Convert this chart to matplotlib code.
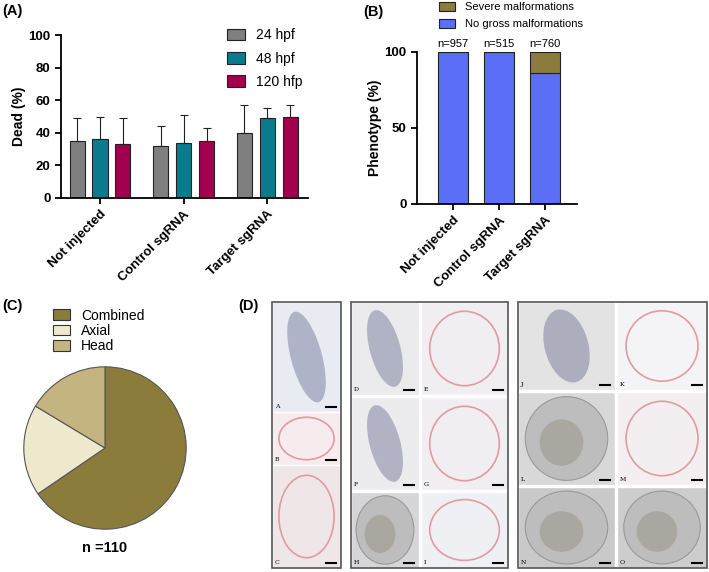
import numpy as np
import matplotlib
matplotlib.use("Agg")
import matplotlib.pyplot as plt
from matplotlib.patches import Rectangle, Ellipse, Patch

plt.rcParams['font.family'] = ['Liberation Sans', 'DejaVu Sans']

W, H = 709, 572

# panel A data
groups = ['Not injected', 'Control sgRNA', 'Target sgRNA']
times = ['24 hpf', '48 hpf', '120 hfp']
dead = [[35, 32, 40],   # 24 hpf
        [36, 34, 49],   # 48 hpf
        [33, 35, 50]]   # 120 hfp
dead_err = [[14, 12, 17],
            [14, 17, 6],
            [16, 8, 7]]
colors_a = ['#7f7f7f', '#0a7b8c', '#a2004f']

# panel B data
n_labels = ['n=957', 'n=515', 'n=760']
no_gross = [100, 100, 86]
severe = [0, 0, 14]

# panel C data
pie_labels = ['Combined', 'Axial', 'Head']
pie_counts = [72, 20, 18]
pie_colors = ['#8c7c3b', '#eee8cd', '#c4b47f']


def px_axes(l, t, r, b, **kw):
    return fig.add_axes([l / W, 1 - b / H, (r - l) / W, (b - t) / H], **kw)


fig = plt.figure(figsize=(W / 100, H / 100), dpi=100)

# ---------- (A) ----------
ax = px_axes(61, 35, 308, 198)
x = np.arange(len(groups))
for i in range(3):
    ax.bar(x + (i - 1) * 0.275, dead[i], 0.18, color=colors_a[i], edgecolor='#222222',
           linewidth=0.8, yerr=[np.zeros(3), dead_err[i]], capsize=3,
           error_kw=dict(elinewidth=0.8, capthick=0.8, ecolor='#222222'), label=times[i])
ax.set_xlim(-0.467, 2.49)
ax.set_ylim(0, 100)
ax.set_yticks([0, 20, 40, 60, 80, 100])
ax.set_xticks(x)
ax.set_xticklabels(groups, rotation=45, ha='right', rotation_mode='anchor',
                   fontweight='bold', fontsize=9.5)
for lab in ax.get_yticklabels():
    lab.set_fontweight('bold')
    lab.set_fontsize(9.5)
ax.set_ylabel('Dead (%)', fontweight='bold', fontsize=10, labelpad=2)
for s in ['top', 'right']:
    ax.spines[s].set_visible(False)
for s in ['left', 'bottom']:
    ax.spines[s].set_linewidth(1.3)
ax.tick_params(width=1.3, length=4)
ax.legend(loc='upper left', bbox_to_anchor=(215 / W, 1 - 16 / H), bbox_transform=fig.transFigure,
          frameon=False, fontsize=10, handlelength=1.25, handleheight=0.9, labelspacing=0.65,
          handletextpad=0.8)

# ---------- (B) ----------
bx = px_axes(417, 52, 577, 204)
xb = np.arange(3)
bx.bar(xb, no_gross, 0.65, color='#5a6ff6', edgecolor='#222222', linewidth=0.8,
       label='No gross malformations')
bx.bar(xb, severe, 0.65, bottom=no_gross, color='#8c7c3b', edgecolor='#222222',
       linewidth=0.8, label='Severe malformations')
for xi, t in zip(xb, n_labels):
    bx.text(xi, 102, t, ha='center', va='bottom', fontsize=8)
bx.set_xlim(-0.78, 2.7)
bx.set_ylim(0, 100)
bx.set_yticks([0, 50, 100])
bx.set_xticks(xb)
bx.set_xticklabels(groups, rotation=45, ha='right', rotation_mode='anchor',
                   fontweight='bold', fontsize=9.5)
for lab in bx.get_yticklabels():
    lab.set_fontweight('bold')
    lab.set_fontsize(9.5)
bx.set_ylabel('Phenotype (%)', fontweight='bold', fontsize=10, labelpad=2)
for s in ['top', 'right']:
    bx.spines[s].set_visible(False)
for s in ['left', 'bottom']:
    bx.spines[s].set_linewidth(1.3)
bx.tick_params(width=1.3, length=4)
hs, ls = bx.get_legend_handles_labels()
bx.legend(hs[::-1], ls[::-1], loc='upper left', bbox_to_anchor=(429 / W, 1 + 8 / H),
          bbox_transform=fig.transFigure, frameon=False, fontsize=8, handlelength=1.45,
          handleheight=0.8, labelspacing=0.65, handletextpad=0.9)

# ---------- (C) ----------
cx = px_axes(23, 366, 187, 530)
wedges, _ = cx.pie(pie_counts, colors=pie_colors, startangle=90, counterclock=False,
                   wedgeprops=dict(edgecolor='#555555', linewidth=0.8))
cx.set_xlim(-1.01, 1.01)
cx.set_ylim(-1.01, 1.01)
cx.set_aspect('equal')
cx.text(0.5, -0.11, 'n =110', transform=cx.transAxes, ha='center', va='center',
        fontweight='bold', fontsize=10.5)
handles = [Patch(facecolor=c, edgecolor='#333333', linewidth=0.8) for c in pie_colors]
fig.legend(handles, pie_labels, loc='upper left', bbox_to_anchor=(40 / W, 1 - 296 / H),
           frameon=False, fontsize=10, handlelength=1.25, handleheight=0.8,
           labelspacing=0.1, handletextpad=0.8)

# ---------- (D) image placeholders ----------
dax = fig.add_axes([0, 0, 1, 1], zorder=-1)
dax.set_xlim(0, W)
dax.set_ylim(H, 0)
dax.axis('off')

frames = [(272, 302, 341, 568), (351, 302, 508, 568), (518, 302, 707, 568)]
tiles = [
    ('A', 272, 302, 341, 412, '#e9ebf3', 'w'),
    ('B', 272, 412, 341, 465, '#f6eced', 's'),
    ('C', 272, 465, 341, 568, '#efe7e7', 's'),
    ('D', 351, 302, 419, 395, '#ebebed', 'w'),
    ('E', 421, 302, 508, 395, '#f1eef2', 's'),
    ('F', 351, 397, 419, 490, '#ececee', 'w'),
    ('G', 421, 397, 508, 490, '#f1eef2', 's'),
    ('H', 351, 492, 419, 568, '#d6d6d8', 'e'),
    ('I', 421, 492, 508, 568, '#eef0f4', 's'),
    ('J', 518, 302, 615, 390, '#e3e3e3', 'w'),
    ('K', 617, 302, 707, 390, '#f4f4f6', 's'),
    ('L', 518, 392, 615, 485, '#d8d8d8', 'e'),
    ('M', 617, 392, 707, 485, '#f3eef0', 's'),
    ('N', 518, 487, 615, 568, '#c9c9c9', 'e'),
    ('O', 617, 487, 707, 568, '#cdcdcd', 'e'),
]
for name, l, t, r, b, fc, kind in tiles:
    dax.add_patch(Rectangle((l, t), r - l, b - t, facecolor=fc, edgecolor='white', linewidth=1))
    cxp, cyp = (l + r) / 2, (t + b) / 2
    if kind == 'w':
        dax.add_patch(Ellipse((cxp, cyp), (r - l) * 0.45, (b - t) * 0.85, angle=-15,
                              facecolor='#6a6f93', alpha=0.45, edgecolor='none'))
    elif kind == 's':
        dax.add_patch(Ellipse((cxp, cyp), (r - l) * 0.8, (b - t) * 0.8,
                              facecolor='none', edgecolor='#e39aa2', linewidth=1.2))
    else:
        dax.add_patch(Ellipse((cxp, cyp), (r - l) * 0.85, (b - t) * 0.9,
                              facecolor='#bdbdbd', edgecolor='#999999', linewidth=0.8))
        dax.add_patch(Ellipse((cxp - 5, cyp + 4), (r - l) * 0.45, (b - t) * 0.5,
                              facecolor='#a9a79f', edgecolor='none'))
    dax.text(l + 3, b - 3, name, fontsize=4.5, family='DejaVu Serif', ha='left', va='bottom')
    dax.plot([r - 15, r - 5], [b - 5, b - 5], color='black', linewidth=1.5)
for l, t, r, b in frames:
    dax.add_patch(Rectangle((l, t), r - l, b - t, facecolor='none', edgecolor='#555555',
                            linewidth=1.2))

# panel letters
fig.text(2 / W, 1 - 11 / H, '(A)', fontweight='bold', fontsize=10.5, va='center')
fig.text(363 / W, 1 - 12 / H, '(B)', fontweight='bold', fontsize=10.5, va='center')
fig.text(2 / W, 1 - 306 / H, '(C)', fontweight='bold', fontsize=10.5, va='center')
fig.text(238 / W, 1 - 306 / H, '(D)', fontweight='bold', fontsize=10.5, va='center')

fig.savefig('out.png', dpi=100)
